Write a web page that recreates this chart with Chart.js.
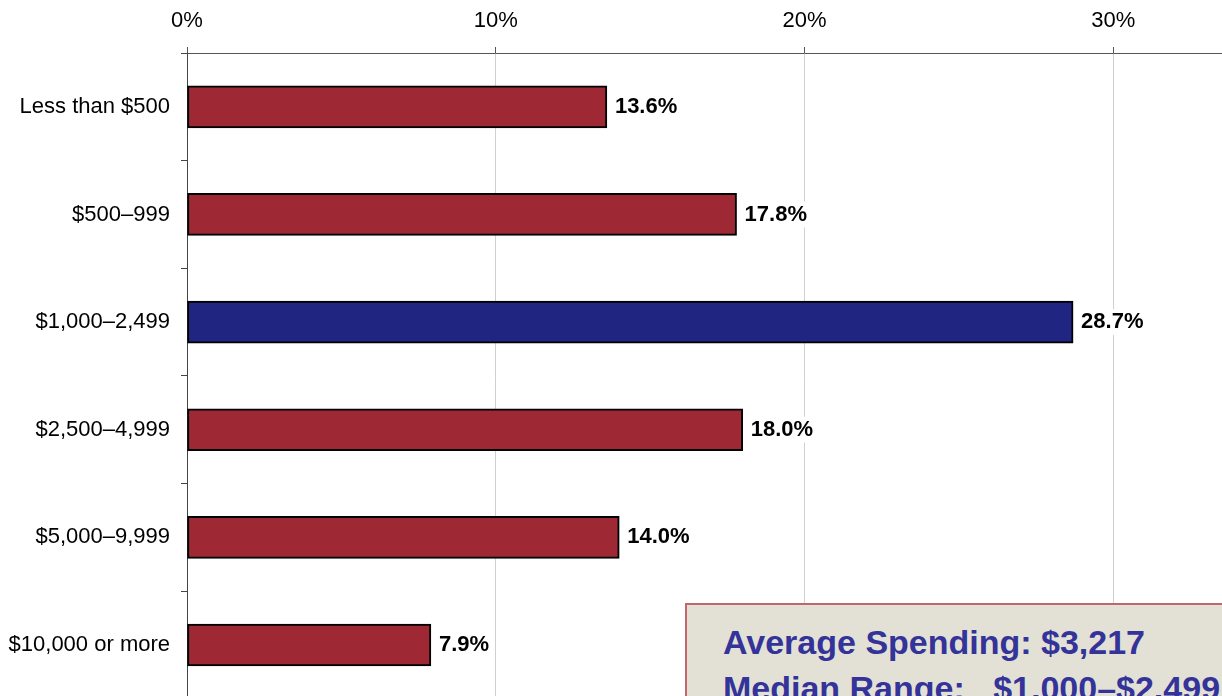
<!DOCTYPE html>
<html>
<head>
<meta charset="utf-8">
<script src="https://cdn.jsdelivr.net/npm/chart.js@4/dist/chart.umd.min.js"></script>
<style>
  html, body { margin: 0; padding: 0; background: #fff; overflow: hidden; }
  #wrap { position: relative; width: 1457px; height: 723px; }
  #summary {
    position: absolute; left: 685px; top: 603px; width: 700px; height: 160px;
    box-sizing: border-box; background: #e3e1d5; border: 2px solid #c4646c;
    padding: 14px 0 0 36px;
    font: bold 34px "Liberation Sans", Arial, sans-serif; color: #333399;
    line-height: 46px; white-space: pre;
  }
</style>
</head>
<body>
<div id="wrap">
  <canvas id="myChart" width="1457" height="723"></canvas>
  <div id="summary">Average Spending: $3,217
Median Range:   $1,000–$2,499</div>
</div>
<script>
var categories = ['Less than $500', '$500–999', '$1,000–2,499', '$2,500–4,999', '$5,000–9,999', '$10,000 or more'];
var shares = [13.6, 17.8, 28.7, 18.0, 14.0, 7.9];
var highlightIndex = 2;   // median range bar
var xTicks = [0, 10, 20, 30, 40];

var red = '#9e2833';
var blue = '#1f2580';
var font = '"Liberation Sans", Arial, sans-serif';

var barColors = categories.map(function(c, i){ return i == highlightIndex ? blue : red; });

// value labels next to each bar, on a white patch so gridlines break behind them
var valueLabels = {
	id: 'valueLabels',
	afterDatasetsDraw: function(chart){
		var ctx = chart.ctx;
		var meta = chart.getDatasetMeta(0);
		ctx.save();
		ctx.font = 'bold 22px ' + font;
		ctx.textBaseline = 'middle';
		ctx.textAlign = 'left';
		meta.data.forEach(function(bar, i){
			var txt = shares[i].toFixed(1) + '%';
			var w = ctx.measureText(txt).width;
			var x = bar.x + 8;
			ctx.fillStyle = '#fff';
			ctx.fillRect(x - 2, bar.y - 13, w + 4, 26);
			ctx.fillStyle = '#000';
			ctx.fillText(txt, x, bar.y);
		});
		ctx.restore();
	}
};

var ctx = document.getElementById('myChart').getContext('2d');
var chart = new Chart(ctx, {
	type: 'bar',
	data: {
		labels: categories,
		datasets: [{
			data: shares,
			backgroundColor: barColors,
			borderColor: '#000',
			borderWidth: 2,
			borderSkipped: false,
			barThickness: 42
		}]
	},
	options: {
		indexAxis: 'y',
		responsive: false,
		animation: false,
		layout: { padding: { right: 19, bottom: 0 } },
		plugins: {
			legend: { display: false },
			tooltip: { enabled: false }
		},
		scales: {
			x: {
				position: 'top',
				min: 0,
				max: 40,
				afterBuildTicks: function(scale){
					scale.ticks = xTicks.map(function(v){ return { value: v }; });
				},
				afterFit: function(scale){ scale.height = 53; },
				grid: {
					color: '#d0d0d0',
					tickColor: '#555',
					tickLength: 6
				},
				border: { color: '#555', width: 1 },
				ticks: {
					padding: 13,
					color: '#000',
					font: { family: font, size: 22 },
					callback: function(v){ return v + '%'; }
				}
			},
			y: {
				afterFit: function(scale){ scale.width = 187; },
				grid: {
					offset: true,
					drawOnChartArea: false,
					tickColor: '#444',
					tickLength: 6
				},
				border: { color: '#444', width: 1 },
				ticks: {
					padding: 11,
					color: '#000',
					font: { family: font, size: 22 }
				}
			}
		}
	},
	plugins: [valueLabels]
});
</script>
</body>
</html>
